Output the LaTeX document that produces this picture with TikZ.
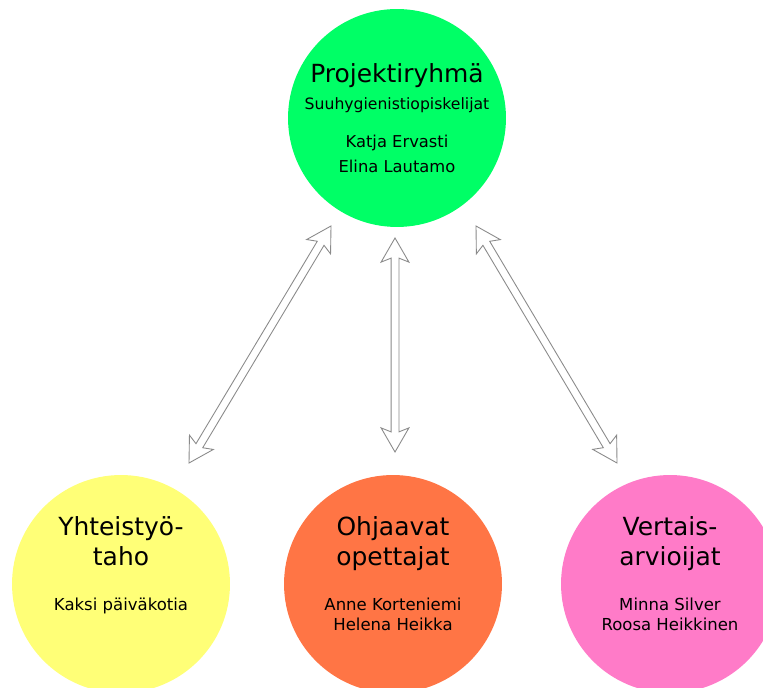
\documentclass[tikz,border=0pt]{standalone}
\usepackage{fontspec}
\setmainfont{DejaVu Sans}
\usetikzlibrary{shapes.arrows, calc}
\definecolor{greenP}{HTML}{00FF66}
\definecolor{yellowP}{HTML}{FFFF77}
\definecolor{orangeP}{HTML}{FF7545}
\definecolor{pinkP}{HTML}{FF7BC8}
\definecolor{greyA}{HTML}{8A8A8A}

\begin{document}
\begin{tikzpicture}[
  x=0.02cm, y=-0.02cm,
  bubble/.style={circle, fill=#1, minimum size=4.36cm, inner sep=0pt},
  head/.style={font=\fontsize{14.2}{17}\selectfont, align=center, anchor=base, inner sep=0pt},
  sub/.style={font=\fontsize{9.4}{11.3}\selectfont, align=center, anchor=base, inner sep=0pt},
  dbl/.style={
    double arrow, draw=greyA, fill=white, line width=0.5pt,
    inner sep=0.07cm, minimum width=0pt,
    double arrow head extend=0.2cm, double arrow tip angle=60,
    double arrow head indent=0.08cm
  },
  link/.style={to path={
    let \p1=(\tikztostart), \p2=(\tikztotarget),
        \n1={atan2(\y2-\y1,\x2-\x1)}, \n2={veclen(\x2-\x1,\y2-\y1)} in
    node[dbl, rotate=\n1, minimum height=\n2] at ($(\p1)!.5!(\p2)$) {}}},
]
\useasboundingbox (0,0) rectangle (763,688);
\clip (0,0) rectangle (763,688);
\fill[white] (0,0) rectangle (763,688);

%% ═══ PROJEKTIRYHMÄ ═══
\node[bubble=greenP] (proj) at (397,118) {};
\node[head] (projT) at ($(proj.center)+(0,-35)$) {Projektiryhmä};
\node[sub, font=\fontsize{9.3}{14.7}\selectfont] (projS) at ($(proj.center)+(0,55)$)
  {{\fontsize{8.9}{14.7}\selectfont Suuhygienistiopiskelijat}\\[6.8pt]
   Katja Ervasti\\
   Elina Lautamo};

%% ═══ YHTEISTYÖTAHO ═══
\node[bubble=yellowP] (yht) at (121,584) {};
\node[head] (yhtT) at ($(yht.center)+(0,-19)$) {Yhteistyö-\\taho};
\node[sub] (yhtS) at ($(yht.center)+(0,26)$) {Kaksi päiväkotia};

%% ═══ OHJAAVAT OPETTAJAT ═══
\node[bubble=orangeP] (ohj) at (393,584) {};
\node[head] (ohjT) at ($(ohj.center)+(0,-19)$) {Ohjaavat\\opettajat};
\node[sub] (ohjS) at ($(ohj.center)+(0,46)$) {Anne Korteniemi\\Helena Heikka};

%% ═══ VERTAISARVIOIJAT ═══
\node[bubble=pinkP] (vert) at (670,584) {};
\node[head] (vertT) at ($(vert.center)+(0,-19)$) {Vertais-\\arvioijat};
\node[sub] (vertS) at ($(vert.center)+(0,46)$) {Minna Silver\\Roosa Heikkinen};

%% ═══ YHTEYDET ═══
\path[link] ([shift={(68,-121)}]yht.center) to ([shift={(-66,108)}]proj.center);
\path[link] ([shift={(2,-132)}]ohj.center) to ([shift={(-2,120)}]proj.center);
\path[link] ([shift={(-53,-121)}]vert.center) to ([shift={(79,108)}]proj.center);

\end{tikzpicture}
\end{document}
